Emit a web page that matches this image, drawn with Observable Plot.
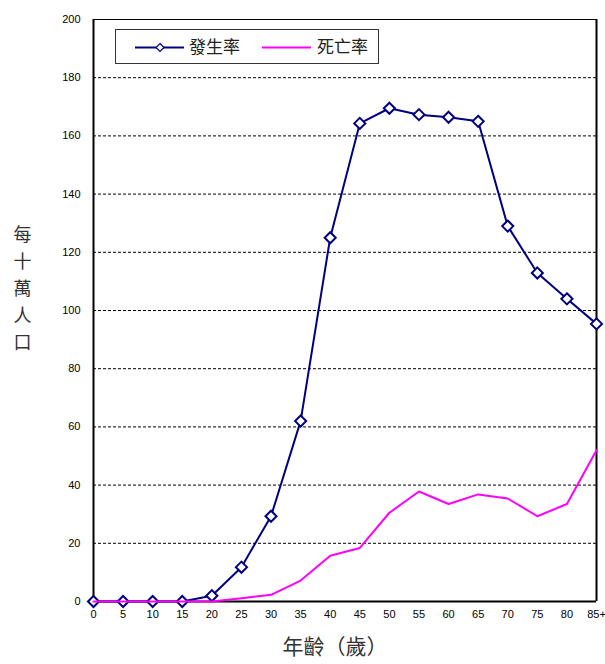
<!DOCTYPE html>
<html>
<head>
<meta charset="utf-8">
<script src="https://cdn.jsdelivr.net/npm/d3@7"></script>
<script src="https://cdn.jsdelivr.net/npm/@observablehq/plot@0.6"></script>
<style>
  html, body { margin: 0; padding: 0; background: white; }
  #wrap { position: relative; width: 605px; height: 664px; }
  #legend {
    position: absolute; left: 115px; top: 29px; width: 264px; height: 35px;
    border: 1px solid #333; background: white; box-sizing: border-box;
    font-family: "Noto Sans CJK TC", sans-serif; font-size: 17px; color: #222;
  }
  #legend svg { position: absolute; left: 0; top: 0; }
  #legend span { position: absolute; top: 4px; line-height: 24px; }
</style>
</head>
<body>
<div id="wrap"></div>
<script>
const ages = ["0","5","10","15","20","25","30","35","40","45","50","55","60","65","70","75","80","85+"];
const incidence = [0,0,0,0,2,11.8,29.3,62,125,164.3,169.5,167.3,166.4,165,129,112.9,104,95.4];
const mortality = [0,0,0,0,0,1.1,2.3,7.2,15.7,18.4,30.5,37.8,33.5,36.8,35.4,29.3,33.5,52];
const yTicks = [0,20,40,60,80,100,120,140,160,180,200];
const gridTicks = [20,40,60,80,100,120,140,160,180];
const seriesNames = ["發生率","死亡率"];
const seriesColors = ["#000080","#FF00FF"];
const xTitle = "年齡（歲）";
const yTitle = "每\n十\n萬\n人\n口";

const rows = ages.map((a, i) => ({age: a, inc: incidence[i], mort: mortality[i]}));

const chart = Plot.plot({
  width: 605, height: 664,
  marginLeft: 93, marginRight: 9, marginTop: 19, marginBottom: 63,
  style: {fontFamily: "'Liberation Sans', Arial, sans-serif", fontSize: "11px", background: "white", overflow: "visible", color: "black"},
  x: {type: "point", domain: ages, padding: 0, round: false, label: null},
  y: {domain: [0, 200], ticks: yTicks, label: null},
  marks: [
    Plot.gridY(gridTicks, {stroke: "black", strokeOpacity: 1, strokeDasharray: "3,2", strokeWidth: 1}),
    Plot.axisY(yTicks, {tickSize: 0, tickPadding: 13, fontSize: 11, label: null}),
    Plot.axisX({tickSize: 0, tickPadding: 9, fontSize: 11, label: null}),
    Plot.ruleY([200], {stroke: "black", strokeWidth: 1}),
    Plot.ruleY([0], {stroke: "black", strokeWidth: 2}),
    Plot.ruleX([ages[0], ages[ages.length - 1]], {stroke: "black", strokeWidth: 2}),
    Plot.line(rows, {x: "age", y: "inc", stroke: seriesColors[0], strokeWidth: 2}),
    Plot.dot(rows, {x: "age", y: "inc", symbol: "diamond2", r: 5, fill: "white", stroke: seriesColors[0], strokeWidth: 2}),
    Plot.line(rows, {x: "age", y: "mort", stroke: seriesColors[1], strokeWidth: 2}),
    Plot.text([xTitle], {frameAnchor: "bottom", dy: 52, dx: -10, fontSize: 21, fill: "#333", fontFamily: "'Noto Sans CJK TC', sans-serif"}),
    Plot.text([yTitle], {frameAnchor: "left", textAnchor: "middle", dx: -71, dy: -24, lineHeight: 1.5, fontSize: 18, fill: "#333", fontFamily: "'Noto Sans CJK TC', sans-serif"})
  ]
});

const wrap = document.getElementById("wrap");
wrap.appendChild(chart);

const legend = document.createElement("div");
legend.id = "legend";
legend.innerHTML = `
<svg width="264" height="35">
  <line x1="19" y1="17.5" x2="68" y2="17.5" stroke="${seriesColors[0]}" stroke-width="2"/>
  <path d="M44,13.5 L48,17.5 L44,21.5 L40,17.5 Z" fill="white" stroke="${seriesColors[0]}" stroke-width="1.2"/>
  <line x1="146" y1="17.5" x2="195" y2="17.5" stroke="${seriesColors[1]}" stroke-width="2"/>
</svg>
<span style="left:73px">${seriesNames[0]}</span>
<span style="left:201px">${seriesNames[1]}</span>`;
wrap.appendChild(legend);
</script>
</body>
</html>
